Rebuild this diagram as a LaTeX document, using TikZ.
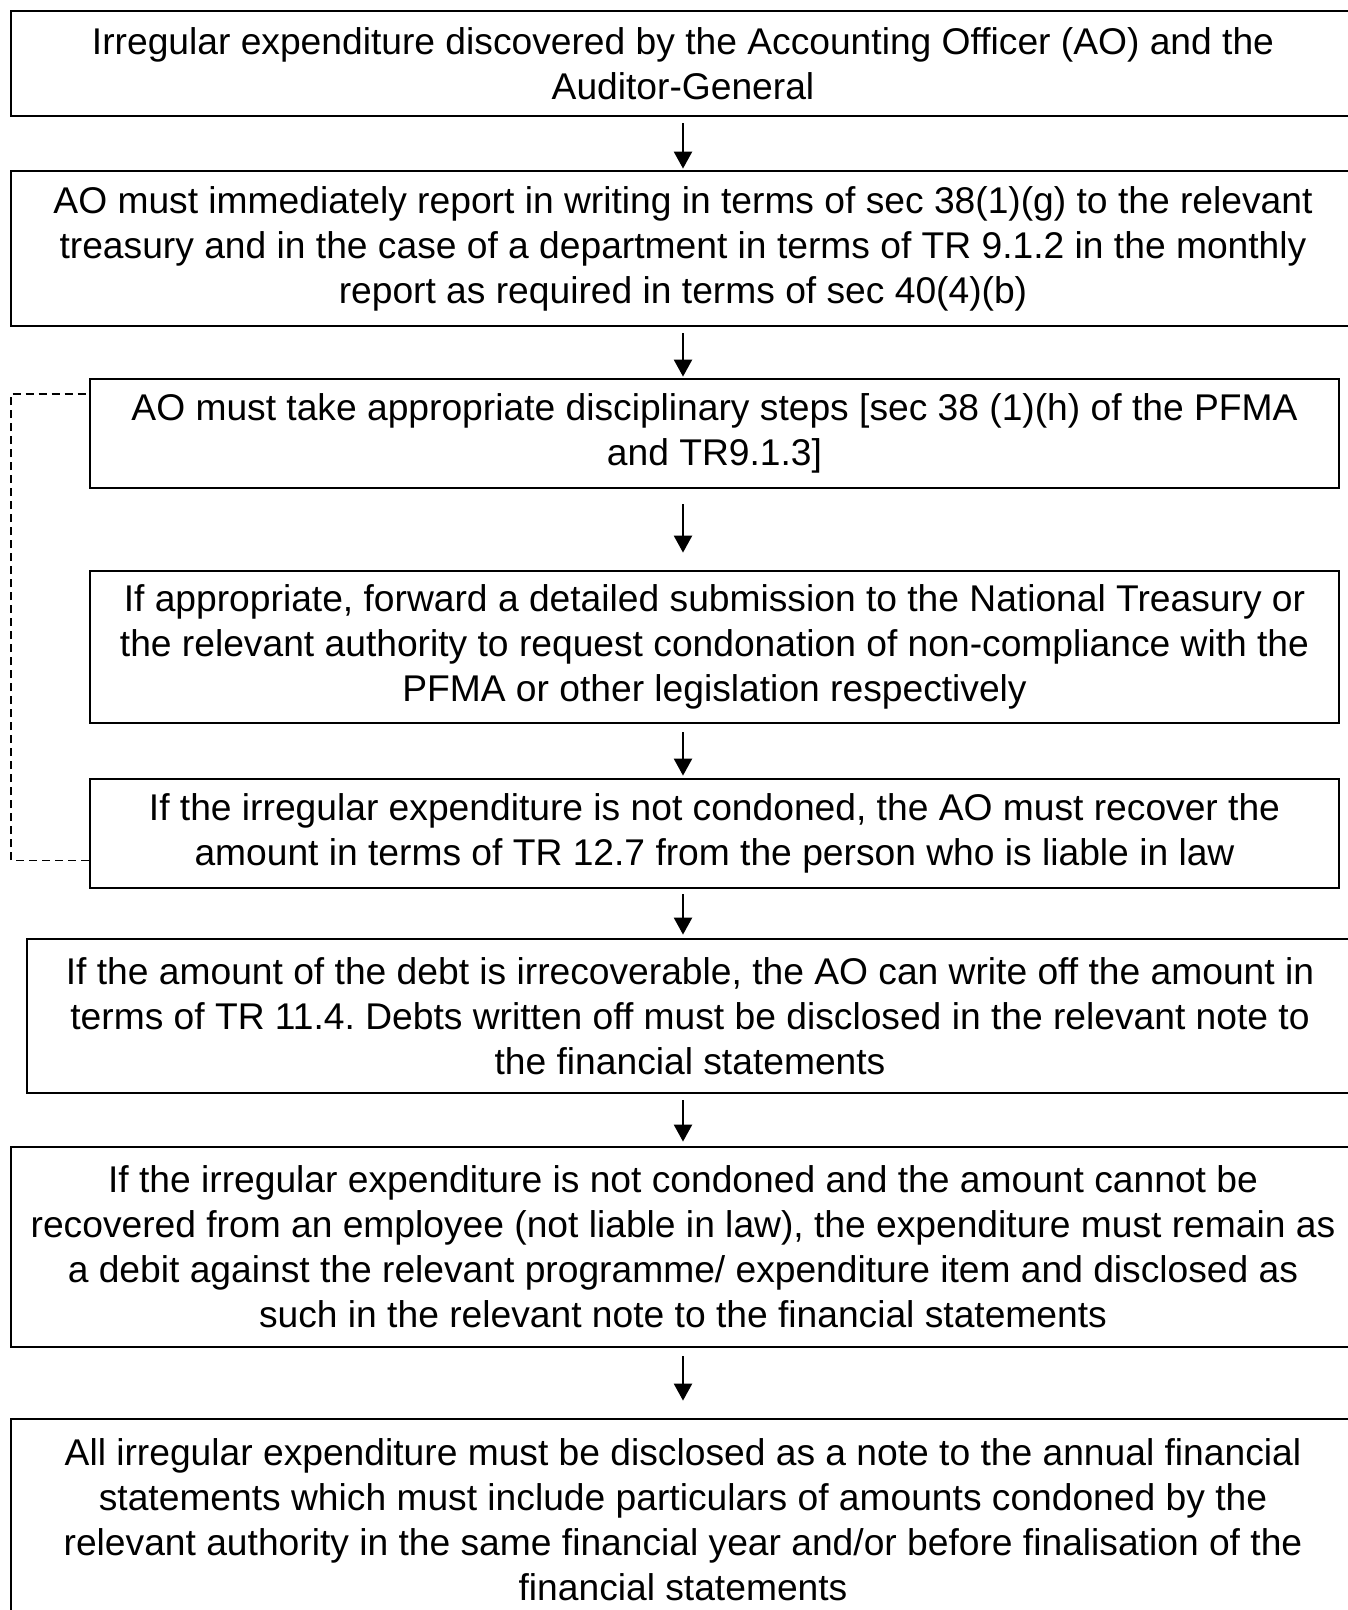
\documentclass[tikz,border=0pt]{standalone}
\usepackage{fontspec}
\setmainfont{Liberation Sans}
\frenchspacing
\usetikzlibrary{arrows.meta}
\begin{document}
\begin{tikzpicture}[x=1pt,y=-1pt,
  stepbox/.style={draw=black,line width=2.8pt,fill=white,inner sep=0pt,align=center,
    font=\fontsize{37.2}{45}\selectfont,anchor=center},
  arr/.style={line width=2.4pt,-{Triangle[width=18pt,length=17pt]}},
  dashline/.style={line width=1.8pt,dash pattern=on 8pt off 5pt}]
\useasboundingbox (0,0) rectangle (1348,1610);
\clip (0,0) rectangle (1348,1610);
\fill[white] (0,0) rectangle (1348,1610);
\coordinate (ax) at (683,0);
\node[stepbox,minimum width=1344pt,minimum height=105pt] (b1) at (683,63.5)
  {Irregular expenditure discovered by the Accounting Officer (AO) and the\\Auditor-General};
\node[stepbox,minimum width=1344pt,minimum height=155pt] (b2) at (683,248.5)
  {AO must immediately report in writing in terms of sec 38(1)(g) to the relevant\\treasury and in the case of a department in terms of TR 9.1.2 in the monthly\\report as required in terms of sec 40(4)(b)};
\node[stepbox,minimum width=1249pt,minimum height=109pt] (b3) at (714.5,433.5)
  {AO must take appropriate disciplinary steps [sec 38 (1)(h) of the PFMA\\and TR9.1.3]};
\node[stepbox,minimum width=1249pt,minimum height=152pt] (b4) at (714.5,647)
  {If appropriate, forward a detailed submission to the National Treasury or\\the relevant authority to request condonation of non-compliance with the\\PFMA or other legislation respectively};
\node[stepbox,minimum width=1249pt,minimum height=109pt] (b5) at (714.5,833.5)
  {If the irregular expenditure is not condoned, the AO must recover the\\amount in terms of TR 12.7 from the person who is liable in law};
\node[stepbox,minimum width=1326pt,minimum height=154pt] (b6) at (690,1016)
  {If the amount of the debt is irrecoverable, the AO can write off the amount in\\terms of TR 11.4. Debts written off must be disclosed in the relevant note to\\the financial statements};
\node[stepbox,minimum width=1344pt,minimum height=200pt] (b7) at (683,1247)
  {If the irregular expenditure is not condoned and the amount cannot be\\recovered from an employee (not liable in law), the expenditure must remain as\\a debit against the relevant programme/ expenditure item and disclosed as\\such in the relevant note to the financial statements};
\node[stepbox,minimum width=1344pt,minimum height=202pt] (b8) at (683,1520)
  {All irregular expenditure must be disclosed as a note to the annual financial\\statements which must include particulars of amounts condoned by the\\relevant authority in the same financial year and/or before finalisation of the\\financial statements};
\draw[arr,shorten <=6pt,shorten >=1pt] (b1.south -| ax) -- (b2.north -| ax);
\draw[arr,shorten <=6pt,shorten >=1pt] (b2.south -| ax) -- (b3.north -| ax);
\draw[arr,shorten <=15pt,shorten >=17pt] (b3.south -| ax) -- (b4.north -| ax);
\draw[arr,shorten <=8pt,shorten >=2pt] (b4.south -| ax) -- (b5.north -| ax);
\draw[arr,shorten <=5pt,shorten >=3pt] (b5.south -| ax) -- (b6.north -| ax);
\draw[arr,shorten <=6pt,shorten >=4pt] (b6.south -| ax) -- (b7.north -| ax);
\draw[arr,shorten <=8pt,shorten >=17pt] (b7.south -| ax) -- (b8.north -| ax);
\coordinate (dA) at ([yshift=29pt]b5.south west);
\coordinate (dB) at ([yshift=-16pt]b3.north west);
\coordinate (dx) at (11,0);
\draw[dashline] (dA) -- (dA -| dx) -- (dB -| dx) -- (dB);
\end{tikzpicture}
\end{document}
